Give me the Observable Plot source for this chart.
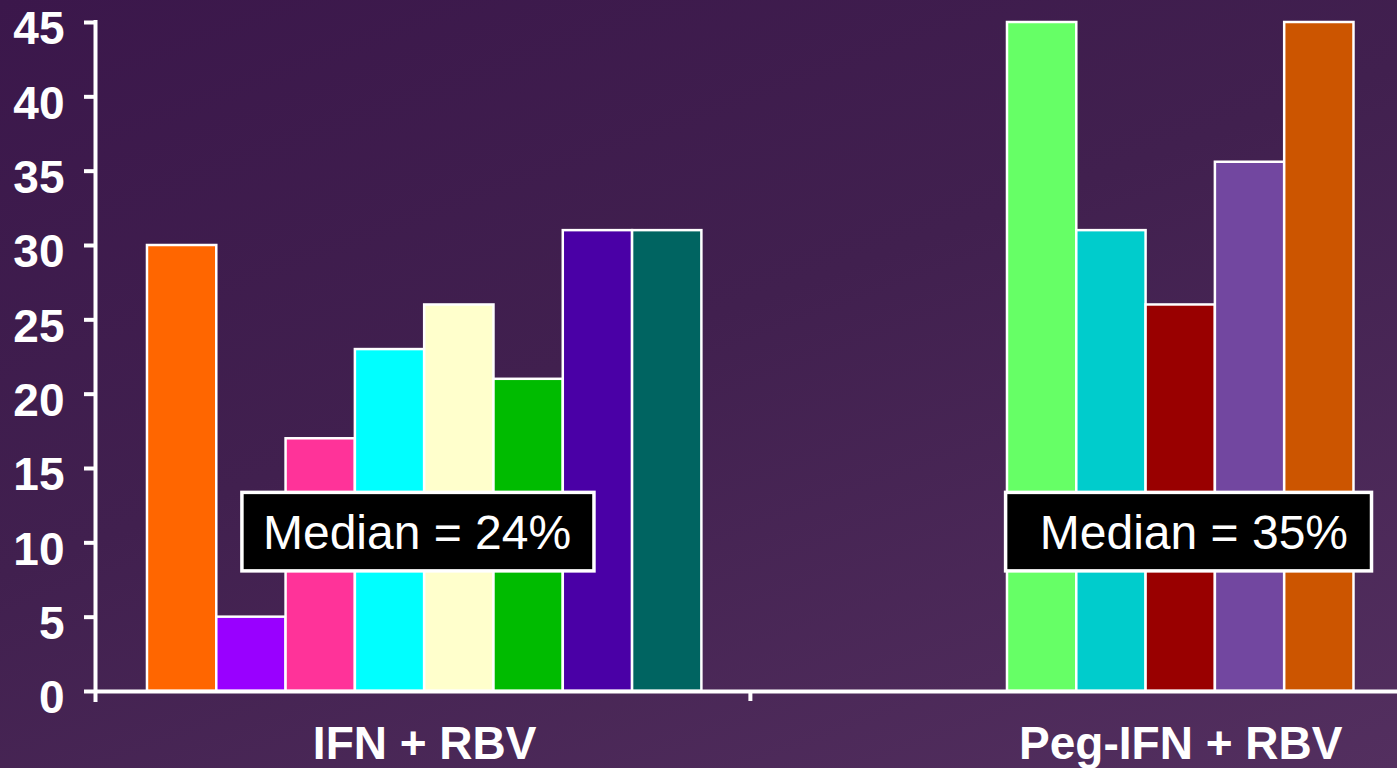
<!DOCTYPE html>
<html><head><meta charset="utf-8">
<script src="https://cdn.jsdelivr.net/npm/d3@7"></script>
<script src="https://cdn.jsdelivr.net/npm/@observablehq/plot@0.6"></script>
<style>
html,body{margin:0;padding:0;width:1397px;height:768px;overflow:hidden;}
body{background:linear-gradient(160deg,#3b174b 0%,#41204f 45%,#532f5f 100%);}
svg{display:block;}
</style></head><body><div id="chart"></div>
<script>
// ---- data ----
const groups = ["IFN + RBV", "Peg-IFN + RBV"];
const ifnValues = [30, 5, 17, 23, 26, 21, 31, 31];
const ifnColors = ["#ff6600", "#9900ff", "#ff3399", "#00ffff", "#ffffcc", "#00bb00", "#4a00a6", "#006461"];
const pegValues = [45, 31, 26, 35.6, 45];
const pegColors = ["#66ff66", "#00cccc", "#990000", "#7247a0", "#cc5500"];
const medianLabels = ["Median = 24%", "Median = 35%"];
const yTicks = [0, 5, 10, 15, 20, 25, 30, 35, 40, 45];

// ---- layout (x in bar-width units) ----
const W = 1397, H = 768;
const mLeft = 95, mTop = 22, mBottom = 77;
const barPx = 69.3;
const xMax = (W - mLeft) / barPx;
const groupStart = [0.75, 13.16];
const groupSplit = 9.45;
const boxX = [[2.12, 7.2], [13.14, 18.42]];
const boxY = [8.08, 13.36];
const medianTextX = [4.64, 15.85];

const seriesValues = [ifnValues, pegValues];
const seriesColors = [ifnColors, pegColors];
const bars = [];
seriesValues.forEach((vals, g) => vals.forEach((v, i) => bars.push({
  group: groups[g], value: v, color: seriesColors[g][i],
  x1: groupStart[g] + i, x2: groupStart[g] + i + 1
})));
const catLabels = groups.map((name, g) => ({name, x: groupStart[g] + seriesValues[g].length / 2}));
const medians = medianLabels.map((label, g) => ({label, x1: boxX[g][0], x2: boxX[g][1], tx: medianTextX[g]}));

const font = "Arial, 'Liberation Sans', Helvetica, sans-serif";

const chart = Plot.plot({
  width: W, height: H,
  marginLeft: mLeft, marginRight: 0, marginTop: mTop, marginBottom: mBottom,
  x: {domain: [0, xMax], axis: null},
  y: {domain: [0, 45], axis: null},
  color: {type: "identity"},
  style: {background: "transparent", fontFamily: font, color: "white", overflow: "visible"},
  marks: [
    Plot.rect(bars, {x1: "x1", x2: "x2", y1: () => 0, y2: "value", fill: "color", stroke: "white", strokeWidth: 2.5}),
    Plot.rect(medians, {x1: "x1", x2: "x2", y1: () => boxY[0], y2: () => boxY[1], fill: "black", stroke: "white", strokeWidth: 3.5}),
    Plot.text(medians, {x: "tx", y: () => (boxY[0] + boxY[1]) / 2, text: "label", fill: "white", fontSize: 48, dy: 1, ariaLabel: "median-text"}),
    // x axis
    Plot.ruleY([0], {x1: () => 0, x2: () => xMax, stroke: "white", strokeWidth: 4}),
    Plot.ruleX([groupSplit], {x: d => d, y1: () => 0, y2: () => 0, insetBottom: -10, stroke: "white", strokeWidth: 4}),
    // y axis
    Plot.ruleX([0], {x: d => d, y1: () => 45, y2: () => 0, insetTop: -2, insetBottom: -11, stroke: "white", strokeWidth: 4}),
    Plot.ruleY(yTicks, {y: d => d, x1: () => 0, x2: () => 0, insetLeft: -11, stroke: "white", strokeWidth: 4}),
    Plot.text(yTicks, {x: () => 0, y: d => d, text: d => String(d), textAnchor: "end", dx: -31, dy: 7, fill: "white", fontSize: 46, fontWeight: "bold"}),
    Plot.text(catLabels, {x: "x", y: () => 0, text: "name", dy: 53, fill: "white", fontSize: 46, fontWeight: "bold"})
  ]
});
document.getElementById("chart").appendChild(chart);
d3.select(chart).selectAll('g[aria-label="median-text"] text')
  .style("filter", "drop-shadow(2px 2px 2px rgba(170,170,170,0.85))");
</script>
</body></html>
